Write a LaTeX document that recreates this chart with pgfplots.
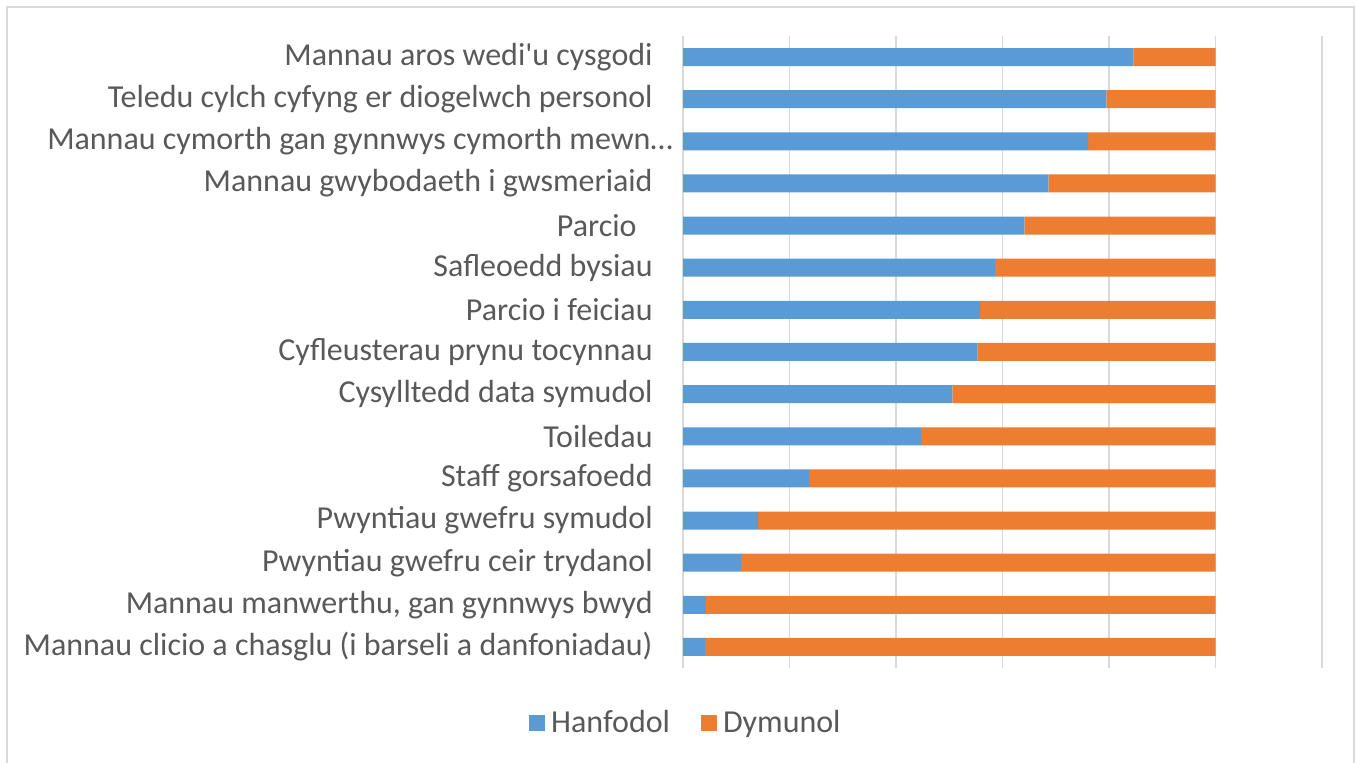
\documentclass[border=0pt]{standalone}
\usepackage{fontspec}
\setmainfont{Carlito}
\usepackage{pgfplots}
\pgfplotsset{compat=1.18}
\definecolor{cblue}{HTML}{5B9BD5}
\definecolor{corange}{HTML}{ED7D31}
\definecolor{ctext}{HTML}{595959}
\definecolor{cgrid}{HTML}{D9D9D9}
\begin{document}
\begin{tikzpicture}
\path[use as bounding box] (0,0) rectangle (678.5bp,381.5bp);
\draw[cgrid, line width=0.75bp] (3.5bp,0) -- (3.5bp,378bp) -- (677bp,378bp) -- (677bp,0);
\begin{axis}[
  at={(341.5bp,47.5bp)}, anchor=south west,
  scale only axis, width=319.5bp, height=316bp,
  xbar stacked, bar width=9bp,
  xmin=0, xmax=1.2, ymin=0.5, ymax=15.5,
  xtick={0,0.2,0.4,0.6,0.8,1.0,1.2}, xticklabels={},
  xmajorgrids, grid style={cgrid, line width=0.75bp},
  axis line style={draw=none}, major tick length=0,
  ytick={1,...,15},
  yticklabels={
    Mannau clicio a chasglu (i barseli a danfoniadau),
    {Mannau manwerthu, gan gynnwys bwyd},
    Pwyntiau gwefru ceir trydanol,
    Pwyntiau gwefru symudol,
    Staff gorsafoedd,
    Toiledau,
    Cysylltedd data symudol,
    Cyfleusterau prynu tocynnau,
    Parcio i feiciau,
    Safleoedd bysiau,
    Parcio\rule{8bp}{0pt},
    Mannau gwybodaeth i gwsmeriaid,
    Mannau cymorth gan gynnwys cymorth mewn…\kern-10bp\relax,
    Teledu cylch cyfyng er diogelwch personol,
    Mannau aros wedi\textquotesingle u cysgodi},
  yticklabel style={font=\fontsize{16bp}{19bp}\selectfont, text=ctext, anchor=east, inner sep=0pt, xshift=-15bp},
  legend columns=2,
  legend style={draw=none, at={(0.0061,-0.087)}, anchor=center,
    font=\fontsize{16bp}{19bp}\selectfont, text=ctext,
    /tikz/every even column/.append style={column sep=13.5bp}},
  legend image code/.code={\fill[#1] (0bp,-4bp) rectangle (8bp,4bp); \path (9bp,0bp);},
]
\addplot[fill=cblue, draw=none] coordinates {
(0.041,1) (0.043,2) (0.109,3) (0.141,4) (0.237,5) (0.447,6) (0.506,7) (0.553,8)
(0.558,9) (0.586,10) (0.641,11) (0.686,12) (0.761,13) (0.795,14) (0.846,15)};
\addlegendentry{Hanfodol}
\addplot[fill=corange, draw=none] coordinates {
(0.959,1) (0.957,2) (0.891,3) (0.859,4) (0.763,5) (0.553,6) (0.494,7) (0.447,8)
(0.442,9) (0.414,10) (0.359,11) (0.314,12) (0.239,13) (0.205,14) (0.154,15)};
\addlegendentry{Dymunol}
\end{axis}
\end{tikzpicture}
\end{document}
